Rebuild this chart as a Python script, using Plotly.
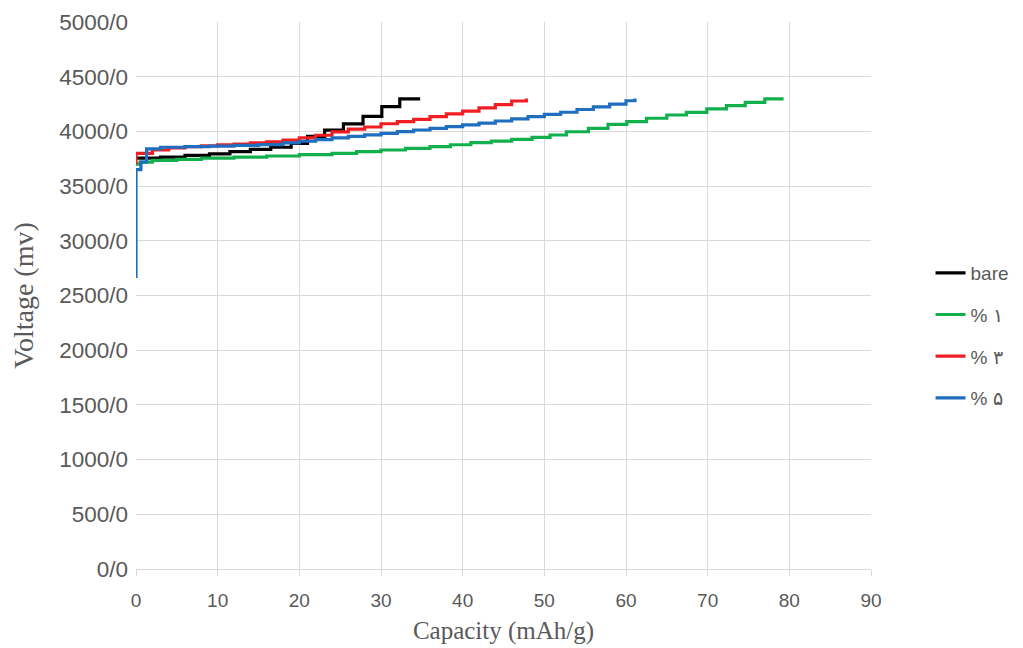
import plotly.graph_objects as go

# ---- data ----
bare_cap = [0, 3, 6, 9, 11.5, 14, 16.5, 19, 21, 23.1, 25.4, 27.8, 30.1, 32.3, 34.8]
bare_v = [3755, 3765, 3780, 3795, 3815, 3835, 3855, 3890, 3955, 4012, 4068, 4138, 4226, 4298, 4298]

p1_cap = [0, 0.5, 2, 5, 8, 12, 16, 20, 24, 27, 30, 33, 36, 38.5, 41, 43.5, 46, 48.5,
          50.7, 52.7, 55.4, 57.8, 60.1, 62.5, 65, 67.4, 69.9, 72.3, 74.6, 77, 79.3]
p1_v = [3700, 3720, 3735, 3745, 3755, 3765, 3775, 3788, 3800, 3815, 3830, 3845, 3860, 3878,
        3897, 3912, 3927, 3945, 3967, 3997, 4028, 4065, 4089, 4120, 4150, 4174, 4205, 4235,
        4266, 4298, 4298]

p3_cap = [0, 0, 2, 4, 6, 8, 10, 12, 14, 16, 18, 20, 22, 24, 26, 28, 30, 32, 34, 36, 38,
          40, 42, 44, 46, 47.8]
p3_v = [3700, 3800, 3830, 3850, 3860, 3868, 3876, 3885, 3895, 3905, 3920, 3940, 3965, 3995,
        4020, 4040, 4070, 4090, 4110, 4135, 4160, 4185, 4215, 4245, 4278, 4300]

p5_cap = [0, 0, 0.6, 1.3, 3, 6, 9, 12, 15, 18, 20, 22, 24, 26, 28, 30, 32, 34, 36, 38, 40,
          42, 44, 46, 48, 50, 52, 54, 56, 58, 60, 61.1]
p5_v = [2660, 3650, 3720, 3840, 3855, 3860, 3865, 3872, 3880, 3895, 3910, 3925, 3940, 3955,
        3968, 3982, 3998, 4013, 4028, 4043, 4059, 4075, 4095, 4115, 4135, 4155, 4175, 4200,
        4225, 4250, 4280, 4300]

series_names = ["bare", "% \u06f1", "% \u06f3", "% \u06f5"]
series_colors = ["#000000", "#12B04C", "#F01E23", "#1F6EBF"]

x_ticks = [0, 10, 20, 30, 40, 50, 60, 70, 80, 90]
y_ticks = [0, 500, 1000, 1500, 2000, 2500, 3000, 3500, 4000, 4500, 5000]
y_ticktext = [f"{v}/0" for v in y_ticks]

fig = go.Figure()
for i, (cx, vy) in enumerate([(bare_cap, bare_v), (p1_cap, p1_v), (p3_cap, p3_v), (p5_cap, p5_v)]):
    fig.add_trace(go.Scatter(
        x=cx, y=vy, mode="lines", name=series_names[i],
        line=dict(color=series_colors[i], width=3.2, shape="hv"),
        legendgroup=f"g{i}",
    ))

gray = "#595959"
grid = "#D9D9D9"
fig.update_layout(
    width=1023, height=648,
    margin=dict(l=128, r=160, t=14, b=87, autoexpand=False),
    paper_bgcolor="white", plot_bgcolor="white",
    showlegend=True,
    legend=dict(
        x=1.081, y=0.576, xanchor="left", yanchor="top",
        font=dict(family="Liberation Sans, Arial, sans-serif", size=19, color=gray),
        traceorder="grouped", tracegroupgap=14,
        bgcolor="rgba(0,0,0,0)",
    ),
    xaxis=dict(
        range=[0, 90], tickvals=x_ticks, ticktext=[str(t) for t in x_ticks],
        showgrid=True, gridcolor=grid, gridwidth=1,
        showline=True, linecolor=grid, linewidth=1,
        ticks="outside", ticklen=6, tickcolor=grid, ticklabelstandoff=8,
        tickfont=dict(family="Liberation Sans Narrow, Liberation Sans, sans-serif", size=19, color=gray),
        title=dict(text="Capacity (mAh/g)", standoff=11,
                   font=dict(family="Liberation Serif, Times New Roman, serif", size=25, color=gray)),
        zeroline=False, automargin=False,
    ),
    yaxis=dict(
        range=[0, 5000], tickvals=y_ticks, ticktext=y_ticktext,
        showgrid=True, gridcolor=grid, gridwidth=1,
        showline=False, ticks="", ticklabelstandoff=7,
        tickfont=dict(family="Liberation Sans, Arial, sans-serif", size=22.5, color=gray),
        title=dict(text="Voltage (mv)", standoff=20,
                   font=dict(family="Liberation Serif, Times New Roman, serif", size=28, color=gray)),
        zeroline=False, automargin=False,
    ),
)

fig.write_html("out.html")
